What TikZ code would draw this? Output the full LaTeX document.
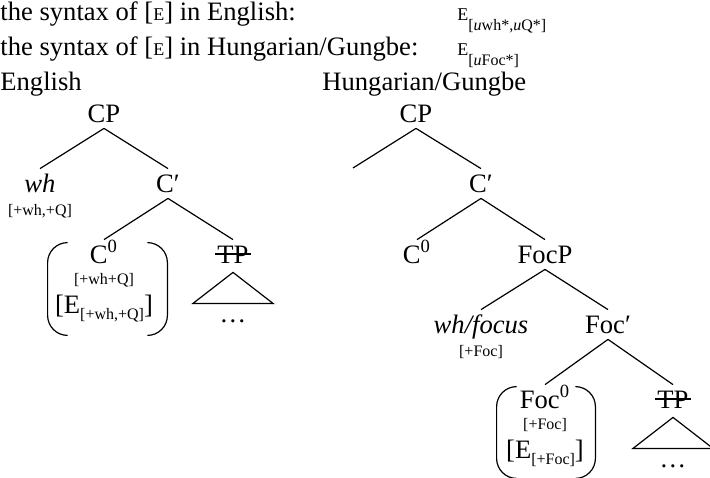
\documentclass[tikz,border=0pt]{standalone}
\usepackage{fontspec}
\setmainfont{Liberation Serif}
\usepackage{tikz}
\usetikzlibrary{positioning,calc}

\newcommand\smE{{\fontsize{9}{10}\selectfont E}}
\newcommand\featsize{\fontsize{8}{9}\selectfont}

\begin{document}
\begin{tikzpicture}[x=0.5pt,y=-0.5pt]
  \useasboundingbox (0,0) rectangle (710,477);
  % Styles for labels and branches
  \tikzset{head/.style={anchor=base west, inner sep=0pt, font=\fontsize{13.3}{16}\selectfont}}
  \tikzset{cat/.style={anchor=base, font=\fontsize{13.3}{16}\selectfont, text height=8.5pt, text depth=0pt, inner xsep=1pt, inner ysep=3pt}}
  \tikzset{feat/.style={anchor=base, inner sep=0pt, font=\featsize}}
  \tikzset{branch/.style={line width=0.6pt}}
  \tikzset{parenbox/.style={inner sep=0pt, minimum width=#1}, parenbox/.default=59.5pt}
  \tikzset{parenline/.style={line width=0.6pt, rounded corners=10pt}}

  % Header lines
  \node[head] (synEn) at (0,20) {the syntax of [\smE] in English:};
  \node[head] (synHu) at (0,55) {the syntax of [\smE] in Hungarian/Gungbe:};
  \node[head] (featEn) at (457,20) {\smE\raisebox{-5pt}{\featsize[\textit{u}wh*,\textit{u}Q*]}};
  \node[head] (featHu) at (457,55) {\smE\raisebox{-5pt}{\featsize[\textit{u}Foc*]}};
  \node[head] (titleEn) at (0,90) {English};
  \node[head] (titleHu) at (322,90) {Hungarian/Gungbe};

  % English tree
  \node[cat] (cpEn) at (104,122) {CP};
  \node[cat, font=\fontsize{13.3}{16}\selectfont\itshape] (whEn) at (40,192) {wh};
  \node[feat] (whEnF) at (40,215) {[+wh,+Q]};
  \node[cat] (cbarEn) at (168,192) {C′};
  \node[cat] (c0En) at (104,263) {C\textsuperscript{0}};
  \node[feat] (c0EnF) at (104,284) {[+wh+Q]};
  \node[cat] (eEn) at (104,313) {[E\raisebox{-3pt}{\featsize[+wh,+Q]}]};
  \node[cat] (tpEn) at (233,263) {TP};
  \node[cat] (dotsEn) at (233,322) {\dots};
  \node[parenbox, minimum height=46pt] (c0EnBox) at (107.5,289) {};

  \draw[branch] (cpEn.south) -- (whEn.north);
  \draw[branch] (cpEn.south) -- (cbarEn.north);
  \draw[branch] (cbarEn.south) -- (c0En.north);
  \draw[branch] (cbarEn.south) -- (tpEn.north);
  \draw[branch] ([yshift=4.5pt]tpEn.base west) -- ([yshift=4.5pt]tpEn.base east);
  \draw[branch] ([yshift=-1.5pt]tpEn.south) -- ++(-40,31) -- ++(80,0) -- cycle;
  \draw[parenline] ([xshift=10pt]c0EnBox.north west) -- (c0EnBox.north west) -- (c0EnBox.south west) -- ([xshift=10pt]c0EnBox.south west);
  \draw[parenline] ([xshift=-10pt]c0EnBox.north east) -- (c0EnBox.north east) -- (c0EnBox.south east) -- ([xshift=-10pt]c0EnBox.south east);

  % Hungarian/Gungbe tree
  \node[cat] (cpHu) at (416,122) {CP};
  \coordinate (specHu) at (353,168);
  \node[cat] (cbarHu) at (481,192) {C′};
  \node[cat] (c0Hu) at (417,263) {C\textsuperscript{0}};
  \node[cat] (focpHu) at (545,263) {FocP};
  \node[cat, font=\fontsize{13.3}{16}\selectfont\itshape] (whfHu) at (481,333) {wh/focus};
  \node[feat] (whfHuF) at (481,356) {[+Foc]};
  \node[cat] (fbarHu) at (608,333) {Foc′};
  \node[cat] (foc0Hu) at (545,408) {Foc\textsuperscript{0}};
  \node[feat] (foc0HuF) at (545,429) {[+Foc]};
  \node[cat] (eHu) at (545,458) {[E\raisebox{-3pt}{\featsize[+Foc]}]};
  \node[cat] (tpHu) at (673,408) {TP};
  \node[cat] (dotsHu) at (673,467) {\dots};
  \node[parenbox=49pt, minimum height=45.5pt] (foc0HuBox) at (546,432.5) {};

  \draw[branch] (cpHu.south) -- (specHu);
  \draw[branch] (cpHu.south) -- (cbarHu.north);
  \draw[branch] (cbarHu.south) -- (c0Hu.north);
  \draw[branch] (cbarHu.south) -- (focpHu.north);
  \draw[branch] (focpHu.south) -- (whfHu.north);
  \draw[branch] (focpHu.south) -- (fbarHu.north);
  \draw[branch] (fbarHu.south) -- (foc0Hu.north);
  \draw[branch] (fbarHu.south) -- (tpHu.north);
  \draw[branch] ([yshift=4.5pt]tpHu.base west) -- ([yshift=4.5pt]tpHu.base east);
  \draw[branch] ([yshift=-1.5pt]tpHu.south) -- ++(-40,31) -- ++(80,0) -- cycle;
  \draw[parenline] ([xshift=10pt]foc0HuBox.north west) -- (foc0HuBox.north west) -- (foc0HuBox.south west) -- ([xshift=10pt]foc0HuBox.south west);
  \draw[parenline] ([xshift=-10pt]foc0HuBox.north east) -- (foc0HuBox.north east) -- (foc0HuBox.south east) -- ([xshift=-10pt]foc0HuBox.south east);
\end{tikzpicture}
\end{document}
